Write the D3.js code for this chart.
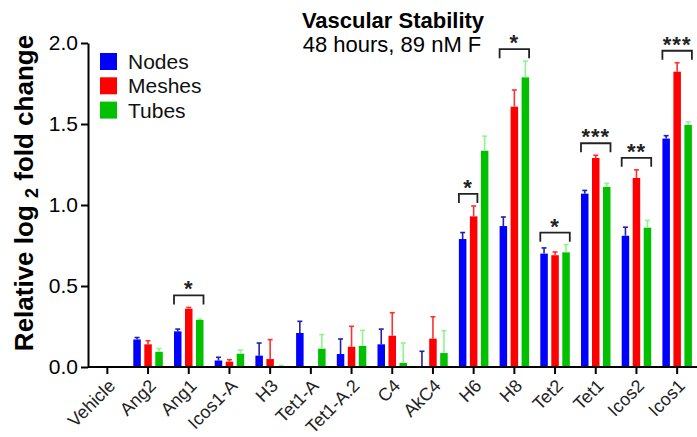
<!DOCTYPE html>
<html>
<head>
<meta charset="utf-8">
<script src="https://cdn.jsdelivr.net/npm/d3@7"></script>
<style>
  body { margin: 0; background: #fff; }
  svg { font-family: "Liberation Sans", Arial, sans-serif; }
  .axis path, .axis line { stroke: #000; stroke-width: 2; }
</style>
</head>
<body>
<svg id="chart" width="697" height="437"></svg>
<script>
// data
var categories = ["Vehicle", "Ang2", "Ang1", "Icos1-A", "H3", "Tet1-A", "Tet1-A.2", "C4", "AkC4", "H6", "H8", "Tet2", "Tet1", "Icos2", "Icos1"];
var seriesNames = ["Nodes", "Meshes", "Tubes"];

var nodes     = [0, 0.17, 0.22, 0.04, 0.07, 0.21, 0.08, 0.14, 0.0, 0.79, 0.87, 0.70, 1.07, 0.81, 1.41];
var nodesErr  = [0, 0.012, 0.014, 0.02, 0.078, 0.072, 0.093, 0.094, 0.097, 0.04, 0.056, 0.035, 0.02, 0.053, 0.018];
var meshes    = [0, 0.14, 0.36, 0.033, 0.049, 0, 0.125, 0.193, 0.175, 0.93, 1.607, 0.69, 1.29, 1.167, 1.823];
var meshesErr = [0, 0.022, 0.008, 0.012, 0.12, 0, 0.126, 0.142, 0.135, 0.064, 0.103, 0.02, 0.017, 0.05, 0.055];
var tubes     = [0, 0.094, 0.29, 0.082, 0.006, 0.113, 0.13, 0.025, 0.086, 1.335, 1.788, 0.708, 1.111, 0.86, 1.494];
var tubesErr  = [0, 0.02, 0.005, 0.022, 0.004, 0.087, 0.096, 0.123, 0.138, 0.09, 0.10, 0.047, 0.023, 0.045, 0.02];

var yTicks = [0, 0.5, 1.0, 1.5, 2.0];

// significance brackets
var sigCats   = ["Ang1", "H6", "H8", "Tet2", "Tet1", "Icos2", "Icos1"];
var sigTo     = ["Tubes", "Meshes", "Tubes", "Tubes", "Tubes", "Tubes", "Tubes"];
var sigLabels = ["*", "*", "*", "*", "***", "**", "***"];

var colors    = { Nodes: "#0000ff", Meshes: "#ff0000", Tubes: "#00c000" };
var errColors = { Nodes: "#2020b0", Meshes: "#ff3030", Tubes: "#8cf58c" };

var values = { Nodes: nodes, Meshes: meshes, Tubes: tubes };
var errors = { Nodes: nodesErr, Meshes: meshesErr, Tubes: tubesErr };

var svg = d3.select("#chart");

var x = d3.scaleBand().domain(categories).range([87, 697.5]).padding(0);
var x1 = d3.scaleBand().domain(seriesNames).range([-14.75, 14.75]).paddingInner(0.318).paddingOuter(0);
var y = d3.scaleLinear().domain([0, 2]).range([367, 43]);

function cx(cat) { return x(cat) + x.bandwidth() / 2; }

// flat table of bars
var bars = [];
categories.forEach(function(c, i) {
    seriesNames.forEach(function(s) {
        bars.push({ cat: c, series: s, value: values[s][i], err: errors[s][i] });
    });
});

// bars
svg.append("g").selectAll("rect")
    .data(bars.filter(function(d) { return d.value > 0; }))
  .enter().append("rect")
    .attr("x", function(d) { return cx(d.cat) + x1(d.series); })
    .attr("width", x1.bandwidth())
    .attr("y", function(d) { return y(d.value); })
    .attr("height", function(d) { return y(0) - y(d.value); })
    .attr("fill", function(d) { return colors[d.series]; });

// error bars (upper whisker only)
var eb = svg.append("g").selectAll("g")
    .data(bars.filter(function(d) { return d.err > 0; }))
  .enter().append("g")
    .attr("stroke", function(d) { return errColors[d.series]; })
    .attr("stroke-width", 1.6);

eb.append("line")
    .attr("x1", function(d) { return cx(d.cat) + x1(d.series) + x1.bandwidth() / 2; })
    .attr("x2", function(d) { return cx(d.cat) + x1(d.series) + x1.bandwidth() / 2; })
    .attr("y1", function(d) { return y(d.value); })
    .attr("y2", function(d) { return y(d.value + d.err); });

eb.append("line")
    .attr("x1", function(d) { return cx(d.cat) + x1(d.series) + x1.bandwidth() / 2 - 2.5; })
    .attr("x2", function(d) { return cx(d.cat) + x1(d.series) + x1.bandwidth() / 2 + 2.5; })
    .attr("y1", function(d) { return y(d.value + d.err); })
    .attr("y2", function(d) { return y(d.value + d.err); });

// axes
var yAxis = svg.append("g")
    .attr("class", "axis")
    .attr("transform", "translate(88,0)")
    .call(d3.axisLeft(y).tickValues(yTicks).tickFormat(d3.format(".1f")).tickSize(7).tickSizeOuter(0).tickPadding(3));
yAxis.selectAll("text").attr("font-size", 21).attr("fill", "#000").attr("font-family", "Liberation Sans, Arial");

var xAxis = svg.append("g")
    .attr("class", "axis")
    .attr("transform", "translate(0,367)")
    .call(d3.axisBottom(x).tickSize(7).tickSizeOuter(0).tickFormat(""));
xAxis.select(".domain").attr("d", "M88,0H697");

svg.append("g").selectAll("text")
    .data(categories)
  .enter().append("text")
    .attr("transform", function(d) { return "translate(" + (cx(d) + 9) + ",387) rotate(-45)"; })
    .attr("text-anchor", "end")
    .attr("font-size", 18)
    .attr("fill", "#222")
    .text(function(d) { return d; });

// significance brackets
sigCats.forEach(function(c, i) {
    var i0 = categories.indexOf(c);
    var span = seriesNames.slice(0, seriesNames.indexOf(sigTo[i]) + 1);
    var top = d3.max(span, function(s) { return values[s][i0] + errors[s][i0]; });
    var by = y(top) - 12;
    var xa = cx(c) + x1("Nodes");
    var xb = cx(c) + x1(sigTo[i]) + x1.bandwidth();
    svg.append("path")
        .attr("d", "M" + xa + "," + (by + 9) + "V" + by + "H" + xb + "V" + (by + 9))
        .attr("fill", "none")
        .attr("stroke", "#222")
        .attr("stroke-width", 1.8);
    svg.append("text")
        .attr("x", (xa + xb) / 2)
        .attr("y", by + 1)
        .attr("text-anchor", "middle")
        .attr("font-size", 22)
        .attr("font-weight", "bold")
        .attr("letter-spacing", 1)
        .attr("fill", "#222")
        .text(sigLabels[i]);
});

// legend
var legend = svg.append("g").selectAll("g")
    .data(seriesNames)
  .enter().append("g")
    .attr("transform", function(d, i) { return "translate(100," + (53 + i * 24.3) + ")"; });
legend.append("rect")
    .attr("width", 17).attr("height", 17)
    .attr("fill", function(d) { return colors[d]; });
legend.append("text")
    .attr("x", 28).attr("y", 16)
    .attr("font-size", 21)
    .attr("fill", "#111")
    .text(function(d) { return d; });

// title
svg.append("text")
    .attr("x", 393).attr("y", 28)
    .attr("text-anchor", "middle")
    .attr("font-size", 22).attr("font-weight", "bold")
    .text("Vascular Stability");
svg.append("text")
    .attr("x", 392).attr("y", 52)
    .attr("text-anchor", "middle")
    .attr("font-size", 22)
    .text("48 hours, 89 nM F");

// y label
var yl = svg.append("text")
    .attr("transform", "translate(33,193) rotate(-90)")
    .attr("text-anchor", "middle")
    .attr("font-size", 26).attr("font-weight", "bold");
yl.append("tspan").text("Relative log ");
yl.append("tspan").attr("font-size", 18).attr("dy", 5).text("2");
yl.append("tspan").attr("dy", -5).text("  fold change");
</script>
</body>
</html>
